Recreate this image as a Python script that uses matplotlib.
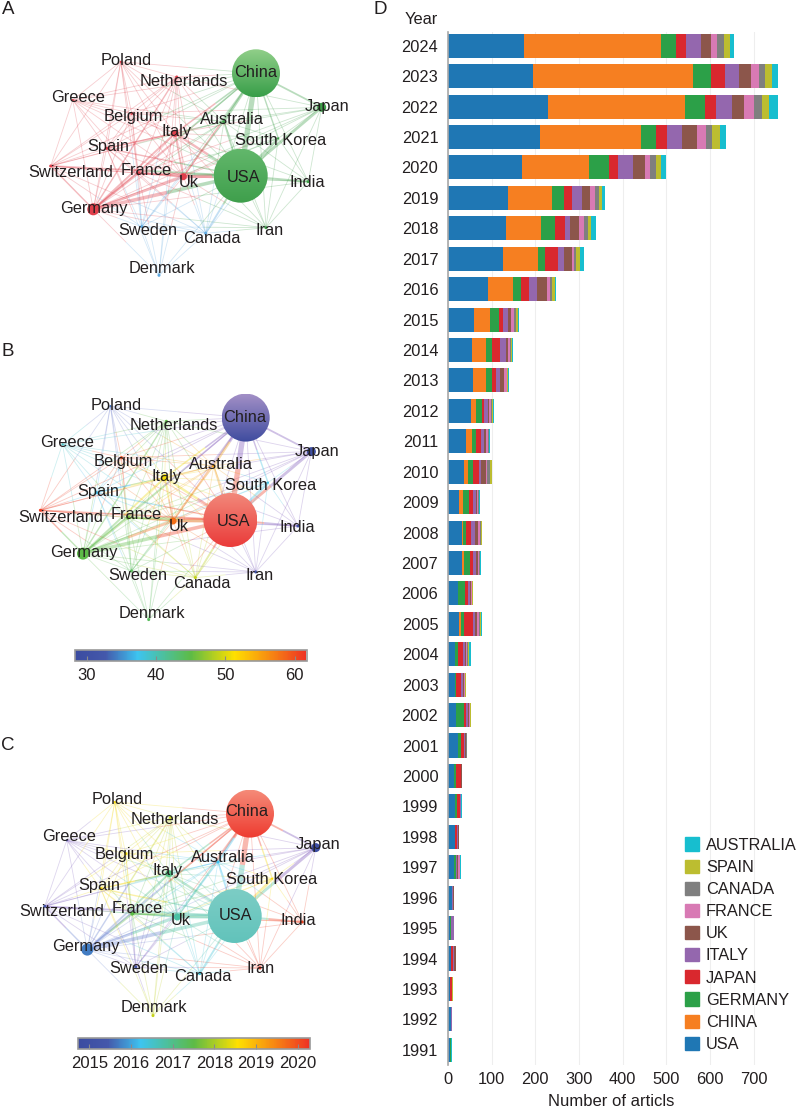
import numpy as np
import matplotlib
matplotlib.use("Agg")
import matplotlib.pyplot as plt
import matplotlib.patches as mpatches
from matplotlib.collections import LineCollection
from matplotlib.colors import LinearSegmentedColormap, Normalize, to_rgb
from matplotlib.cm import ScalarMappable

plt.rcParams['font.family'] = ['Liberation Sans', 'DejaVu Sans']

# ---- panel D data
years = list(range(2024, 1990, -1))
countries = ['USA', 'CHINA', 'GERMANY', 'JAPAN', 'ITALY', 'UK', 'FRANCE', 'CANADA', 'SPAIN', 'AUSTRALIA']
bar_colors = ['#1f77b4', '#f67f21', '#2ca048', '#d9282e', '#9467ae', '#8c564b', '#d87ab4', '#7f7f7f', '#bcbd30', '#17becf']
usa = [173, 194, 229, 211, 169, 137, 133, 127, 92, 60, 56, 58, 52, 42, 37, 26, 33, 33, 24, 26, 15, 15, 19, 22, 14, 17, 16, 14, 9, 5, 7, 5, 8, 5]
china = [315, 367, 314, 231, 154, 102, 81, 79, 58, 37, 32, 30, 12, 14, 8, 8, 2, 4, 0, 4, 2, 0, 0, 0, 0, 0, 0, 0, 0, 0, 0, 0, 0, 0]
germany = [34, 42, 45, 35, 46, 27, 32, 16, 18, 19, 12, 12, 13, 9, 12, 15, 7, 13, 16, 7, 5, 4, 17, 8, 4, 4, 1, 4, 1, 2, 1, 0, 0, 1]
japan = [22, 31, 25, 24, 21, 19, 22, 29, 18, 11, 18, 10, 6, 10, 15, 8, 11, 7, 5, 20, 12, 10, 5, 6, 11, 7, 4, 1, 0, 1, 4, 5, 0, 1]
italy = [35, 33, 37, 35, 34, 23, 12, 14, 18, 11, 14, 10, 8, 7, 3, 6, 9, 6, 5, 5, 4, 5, 4, 3, 0, 1, 3, 2, 1, 5, 2, 0, 2, 0]
uk = [24, 26, 29, 34, 27, 18, 19, 18, 23, 6, 5, 8, 3, 6, 12, 4, 7, 5, 3, 5, 4, 2, 3, 2, 2, 1, 1, 3, 3, 1, 5, 0, 0, 0]
france = [12, 19, 21, 20, 12, 11, 12, 6, 7, 7, 5, 6, 5, 3, 2, 2, 4, 3, 2, 4, 2, 2, 2, 1, 0, 0, 0, 3, 0, 0, 0, 0, 0, 0]
canada = [18, 15, 20, 15, 14, 9, 9, 5, 5, 5, 2, 2, 2, 2, 8, 2, 2, 2, 1, 2, 2, 2, 1, 1, 2, 0, 0, 0, 0, 0, 0, 0, 0, 0]
spain = [12, 16, 16, 18, 12, 7, 8, 9, 5, 4, 2, 2, 2, 2, 3, 1, 2, 1, 1, 2, 1, 1, 1, 1, 0, 0, 0, 0, 0, 0, 0, 2, 0, 0]
australia = [11, 12, 19, 13, 11, 6, 11, 8, 3, 3, 2, 2, 2, 2, 0, 1, 2, 1, 1, 3, 5, 0, 1, 0, 0, 1, 1, 2, 0, 0, 0, 0, 0, 3]
series = [usa, china, germany, japan, italy, uk, france, canada, spain, australia]

# ---- network data (layout units are panel A pixels)
nodes = ['Poland', 'Netherlands', 'China', 'Greece', 'Japan', 'Belgium', 'Australia', 'Italy', 'South Korea', 'Spain',
         'Switzerland', 'France', 'Uk', 'USA', 'India', 'Germany', 'Sweden', 'Canada', 'Iran', 'Denmark']
node_x = [120.7, 176.7, 256, 72.7, 321.7, 131.7, 224, 175, 278.3, 106.7, 50.7, 138.3, 183.3, 240.7, 308.3, 93.3, 141.7, 205.7, 266, 159]
node_y = [61.7, 77, 73.3, 100, 107.3, 113.3, 121.7, 133.3, 138.3, 148.3, 166, 173.3, 176.7, 175.7, 181.7, 209.3, 226.7, 233.3, 227.7, 275.3]
node_r = [1, 1.5, 24, 1, 4.5, 1.5, 1.5, 3.5, 1, 1.5, 1.5, 2, 3.5, 27, 1.5, 6, 1.5, 1.5, 1.5, 1.5]
label_x = [126, 184, 255.3, 77.7, 327, 133.3, 231.7, 176.7, 280.7, 108.3, 70.7, 146, 189, 244, 307.3, 94.3, 147.7, 212, 269.7, 162.3]
label_y = [60.7, 81, 72.7, 98, 106.7, 116.7, 119.3, 131.7, 140.7, 147, 172.7, 170, 182, 177, 182.3, 208, 230.3, 238, 230, 268.7]
clusters = ['red', 'red', 'green', 'red', 'green', 'red', 'green', 'red', 'green', 'red',
            'red', 'red', 'red', 'green', 'green', 'red', 'blue', 'blue', 'green', 'blue']
citations = [34, 45, 29, 39, 30, 60, 55, 51, 38, 37, 61, 46, 58, 61, 30, 45, 44, 49, 32, 44]
pub_years = [2018.6, 2018.2, 2020.2, 2015.3, 2014.9, 2018.5, 2016.2, 2017.05, 2018.6, 2018.6,
             2015.3, 2017.5, 2016.8, 2016.8, 2020.1, 2015.7, 2015.4, 2016.4, 2020.2, 2018.2]

links = {
    'Poland': ['Greece', 'Switzerland', 'Spain', 'Germany', 'France', 'Belgium', 'Italy', 'Uk', 'Netherlands', 'China', 'USA', 'Australia', 'Sweden'],
    'Netherlands': ['Greece', 'Belgium', 'Italy', 'Spain', 'Switzerland', 'France', 'Germany', 'Uk', 'USA', 'China', 'Australia', 'Sweden', 'Denmark', 'Canada', 'Japan'],
    'Greece': ['Switzerland', 'Spain', 'Germany', 'France', 'Belgium', 'Italy', 'Uk', 'USA', 'China', 'Australia'],
    'Belgium': ['Spain', 'Italy', 'Switzerland', 'France', 'Germany', 'Uk', 'USA', 'China', 'Australia', 'Sweden', 'Japan'],
    'Italy': ['Spain', 'Switzerland', 'France', 'Germany', 'Uk', 'USA', 'China', 'Australia', 'South Korea', 'Japan', 'India', 'Iran', 'Sweden', 'Canada', 'Denmark'],
    'Spain': ['Switzerland', 'France', 'Germany', 'Uk', 'USA', 'China', 'Australia', 'Sweden', 'Canada', 'Denmark'],
    'Switzerland': ['France', 'Germany', 'Uk', 'USA', 'China', 'Australia', 'Sweden', 'Canada'],
    'France': ['Germany', 'Uk', 'USA', 'China', 'Australia', 'South Korea', 'Japan', 'India', 'Iran', 'Sweden', 'Canada', 'Denmark'],
    'Germany': ['Uk', 'USA', 'China', 'Australia', 'South Korea', 'Japan', 'India', 'Iran', 'Sweden', 'Canada', 'Denmark'],
    'Uk': ['USA', 'China', 'Australia', 'South Korea', 'Japan', 'India', 'Iran', 'Sweden', 'Canada', 'Denmark'],
    'USA': ['China', 'Australia', 'South Korea', 'Japan', 'India', 'Iran', 'Sweden', 'Canada', 'Denmark'],
    'China': ['Australia', 'South Korea', 'Japan', 'India', 'Iran', 'Sweden', 'Canada'],
    'Japan': ['Australia', 'South Korea', 'India', 'Iran'],
    'Australia': ['South Korea', 'India', 'Iran', 'Canada', 'Sweden'],
    'South Korea': ['India', 'Iran', 'Canada'],
    'India': ['Iran'],
    'Sweden': ['Canada', 'Denmark', 'Iran'],
    'Canada': ['Denmark', 'Iran'],
}
strong_links = {('USA', 'China'): 4.5, ('Germany', 'USA'): 3.0, ('Uk', 'USA'): 2.8, ('Germany', 'Uk'): 2.2,
                ('Italy', 'USA'): 2.0, ('France', 'USA'): 1.8, ('France', 'Germany'): 1.8, ('Germany', 'Italy'): 1.6,
                ('Italy', 'Uk'): 1.4, ('France', 'Uk'): 1.4, ('USA', 'Japan'): 2.4, ('China', 'Japan'): 1.5,
                ('China', 'Australia'): 2.0, ('USA', 'Australia'): 1.5, ('USA', 'South Korea'): 2.0,
                ('China', 'South Korea'): 1.2, ('Canada', 'USA'): 1.6, ('USA', 'India'): 1.6, ('Italy', 'China'): 1.3,
                ('Switzerland', 'USA'): 1.5, ('Switzerland', 'Germany'): 1.2, ('Spain', 'Italy'): 1.3,
                ('Spain', 'USA'): 1.2, ('Netherlands', 'Germany'): 1.2, ('Uk', 'China'): 1.4, ('Germany', 'China'): 1.3}

# ---- colour bars
score_ticks = [30, 40, 50, 60]
year_ticks = [2015, 2016, 2017, 2018, 2019, 2020]

W, H = 800, 1107
TXT = '#231f20'
cluster_colors = {'red': '#e0404c', 'green': '#3f9f4a', 'blue': '#5ea8e0'}
vos = LinearSegmentedColormap.from_list('vos', [(0, '#3b4ba0'), (0.13, '#4458ab'), (0.27, '#3dc4f0'), (0.5, '#5dbb46'),
                                                (0.69, '#ffe000'), (1, '#ee3124')])
# links at the cold end of the scale look mauve rather than blue
vos_links = LinearSegmentedColormap.from_list('vos_links', [(0, '#7a4eb5'), (0.13, '#7f62c0'), (0.27, '#3dc4f0'), (0.5, '#5dbb46'),
                                                            (0.69, '#f4dc10'), (1, '#ee3124')])


def px_axes(left, top, width, height):
    # axes placed in pixels of the final picture
    return fig.add_axes([left / W, 1 - (top + height) / H, width / W, height / H])


def draw_network(dx, dy, colors, link_colors, label_dx, label_dy, big):
    ax = px_axes(0, dy, 370, 335)
    ax.set_xlim(-dx, 370 - dx)
    ax.set_ylim(335, 0)
    ax.axis('off')
    pos = {n: (node_x[i], node_y[i]) for i, n in enumerate(nodes)}
    col = {n: to_rgb(colors[i]) for i, n in enumerate(nodes)}
    lcol = {n: to_rgb(link_colors[i]) for i, n in enumerate(nodes)}
    segs, seg_colors, widths = [], [], []
    for a in links:
        for b in links[a]:
            w = strong_links.get((a, b), strong_links.get((b, a), 0.7))
            mid = ((pos[a][0] + pos[b][0]) / 2, (pos[a][1] + pos[b][1]) / 2)
            segs += [[pos[a], mid], [mid, pos[b]]]
            alpha = 0.26 if w < 1 else 0.36
            seg_colors += [(*lcol[a], alpha), (*lcol[b], alpha)]
            widths += [w, w]
    ax.add_collection(LineCollection(segs, colors=seg_colors, linewidths=np.array(widths) * 0.85, capstyle='butt'))

    for i, n in enumerate(nodes):
        x, y, r = node_x[i], node_y[i], node_r[i]
        if n in big:
            # big nodes fade from a paler top to a full colour bottom
            top, bottom = np.array(to_rgb(big[n][0])), np.array(to_rgb(big[n][1]))
            t = np.linspace(0, 1, 64)[:, None, None]
            rgb = top[None, None, :] * (1 - t) + bottom[None, None, :] * t
            im = ax.imshow(rgb, extent=(x - r, x + r, y + r, y - r), aspect='auto', zorder=3)
            im.set_clip_path(mpatches.Circle((x, y), r, transform=ax.transData))
        else:
            ax.add_patch(mpatches.Circle((x, y), r, facecolor=col[n], edgecolor='none', zorder=3))
        ax.text(label_x[i] + label_dx, label_y[i] + label_dy, n, ha='center', va='center',
                fontsize=11.8, color=TXT, zorder=4)
    ax.set_xlim(-dx, 370 - dx)
    ax.set_ylim(335, 0)


def draw_colorbar(left, top, width, height, vmin, vmax, ticks):
    cax = px_axes(left, top, width, height)
    sm = ScalarMappable(Normalize(vmin, vmax), vos)
    cb = fig.colorbar(sm, cax=cax, orientation='horizontal', ticks=ticks)
    cb.outline.set_edgecolor('#999999')
    cb.outline.set_linewidth(1.2)
    cax.tick_params(axis='x', direction='in', length=3.5, width=0.8, color='#8a8a8a', labelsize=12,
                    labelcolor=TXT, pad=5)


fig = plt.figure(figsize=(W / 100, H / 100), dpi=100)

score_norm = Normalize(28.3, 61.7)
year_norm = Normalize(2014.72, 2020.29)
a_colors = [cluster_colors[c] for c in clusters]

draw_network(0, 0, a_colors, a_colors, 0, 0,
             {'China': ('#92d08a', '#389e49'), 'USA': ('#62b76b', '#3f9f4c')})
draw_network(-10.3, 344.3, [vos(score_norm(v)) for v in citations], [vos_links(score_norm(v)) for v in citations], 0, 0.7,
             {'China': ('#a28fc6', '#3f4c9f'), 'USA': ('#f2887a', '#ea3b3a')})
draw_network(-6, 740.3, [vos(year_norm(v)) for v in pub_years], [vos_links(year_norm(v)) for v in pub_years], -2.7, -2,
             {'China': ('#f58a78', '#ee3b30'), 'USA': ('#7ccdc5', '#62c3bb')})

draw_colorbar(75, 650, 231.5, 11, 28.3, 61.7, score_ticks)
draw_colorbar(77.7, 1037.5, 232.3, 11.8, 2014.72, 2020.29, year_ticks)

# panel letters
for letter, x, y in [('A', 8, 10), ('B', 8, 352), ('C', 8, 745), ('D', 380, 9)]:
    fig.text(x / W, 1 - y / H, letter, ha='center', va='center', fontsize=13.5, color=TXT)

# panel D: stacked bars
ax = px_axes(448, 32, 352, 1033)
pos = np.arange(len(years))
left = np.zeros(len(years))
handles = []
for name, vals, color in zip(countries, series, bar_colors):
    vals = np.array(vals)
    ax.barh(pos, vals, left=left, height=0.79, color=color, label=name, zorder=2)
    left = left + vals
    handles.append(mpatches.Patch(color=color, label=name))

ax.set_xlim(0, 352 / 0.4366)
ax.set_ylim(33.5, -0.45)
ax.set_xticks(range(0, 800, 100))
ax.set_yticks(pos)
ax.set_yticklabels(years)
ax.grid(axis='x', color='#eeeeee', linewidth=0.8, zorder=0)
ax.set_axisbelow(True)
ax.tick_params(axis='both', length=0, labelsize=11.8, labelcolor=TXT)
ax.tick_params(axis='y', pad=7)
ax.tick_params(axis='x', pad=5)
for s in ['top', 'right', 'bottom']:
    ax.spines[s].set_visible(False)
ax.spines['left'].set_color('#a8a8a8')
ax.spines['left'].set_linewidth(1.2)
fig.text(611 / W, 1 - 1101 / H, 'Number of articls', ha='center', va='center', fontsize=12, color=TXT)
fig.text(421.7 / W, 1 - 19 / H, 'Year', ha='center', va='center', fontsize=11.8, color=TXT)

leg = fig.legend(handles=handles[::-1], loc='lower left', bbox_to_anchor=(685 / W, 1 - 1052 / H),
                 frameon=False, fontsize=11.8, handlelength=0.86, handleheight=0.86,
                 handletextpad=0.42, labelspacing=0.42, borderpad=0, borderaxespad=0, labelcolor=TXT)

fig.savefig('out.png', dpi=100)
